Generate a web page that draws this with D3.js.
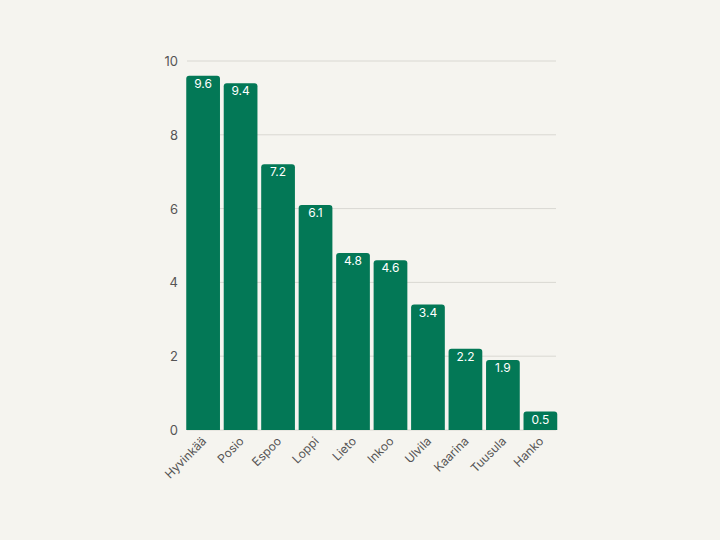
<!DOCTYPE html>
<html><head><meta charset="utf-8">
<script src="https://cdn.jsdelivr.net/npm/d3@7"></script>
<style>body{margin:0;background:#f5f4ef}</style>
</head><body>
<svg width="720" height="540"></svg>
<script>
const categories = ["Hyvinkää","Posio","Espoo","Loppi","Lieto","Inkoo","Ulvila","Kaarina","Tuusula","Hanko"];
const values = [9.6,9.4,7.2,6.1,4.8,4.6,3.4,2.2,1.9,0.5];
const yTicks = [0,2,4,6,8,10];

const svg = d3.select("svg");
const font = "Inter, 'DejaVu Sans', sans-serif";
svg.append("rect").attr("width",720).attr("height",540).attr("fill","#f5f4ef");

const x = d3.scaleBand().domain(categories).range([185.5,558]).paddingInner(0.1).paddingOuter(0.02);
const y = d3.scaleLinear().domain([0,10]).range([430,61]);

// grid
svg.selectAll(".grid").data(yTicks).join("line")
  .attr("x1",187).attr("x2",556)
  .attr("y1",d=>y(d)).attr("y2",d=>y(d))
  .attr("stroke","#d9d8d2").attr("stroke-width",1);

svg.selectAll(".ytick").data(yTicks).join("text")
  .attr("x",178).attr("y",d=>y(d)+5)
  .attr("text-anchor","end").attr("font-family",font).attr("font-size",13)
  .attr("fill","#555").text(d=>d);

// bars with rounded top corners
const r = 3;
svg.selectAll(".bar").data(values).join("path")
  .attr("fill","#037856")
  .attr("d",(d,i)=>{
    const x0=x(categories[i]), w=x.bandwidth(), y0=y(d), y1=y(0);
    return `M${x0},${y1}V${y0+r}Q${x0},${y0} ${x0+r},${y0}H${x0+w-r}Q${x0+w},${y0} ${x0+w},${y0+r}V${y1}Z`;
  });

svg.selectAll(".val").data(values).join("text")
  .attr("x",(d,i)=>x(categories[i])+x.bandwidth()/2)
  .attr("y",d=>y(d)+12)
  .attr("text-anchor","middle").attr("font-family",font).attr("font-size",12)
  .attr("fill","#fff").text(d=>d.toFixed(1));

svg.selectAll(".xl").data(categories).join("text")
  .attr("transform",d=>`translate(${x(d)+x.bandwidth()/2+4},${y(0)+12}) rotate(-45)`)
  .attr("text-anchor","end").attr("font-family",font).attr("font-size",12)
  .attr("fill","#555").text(d=>d);
</script>
</body></html>
